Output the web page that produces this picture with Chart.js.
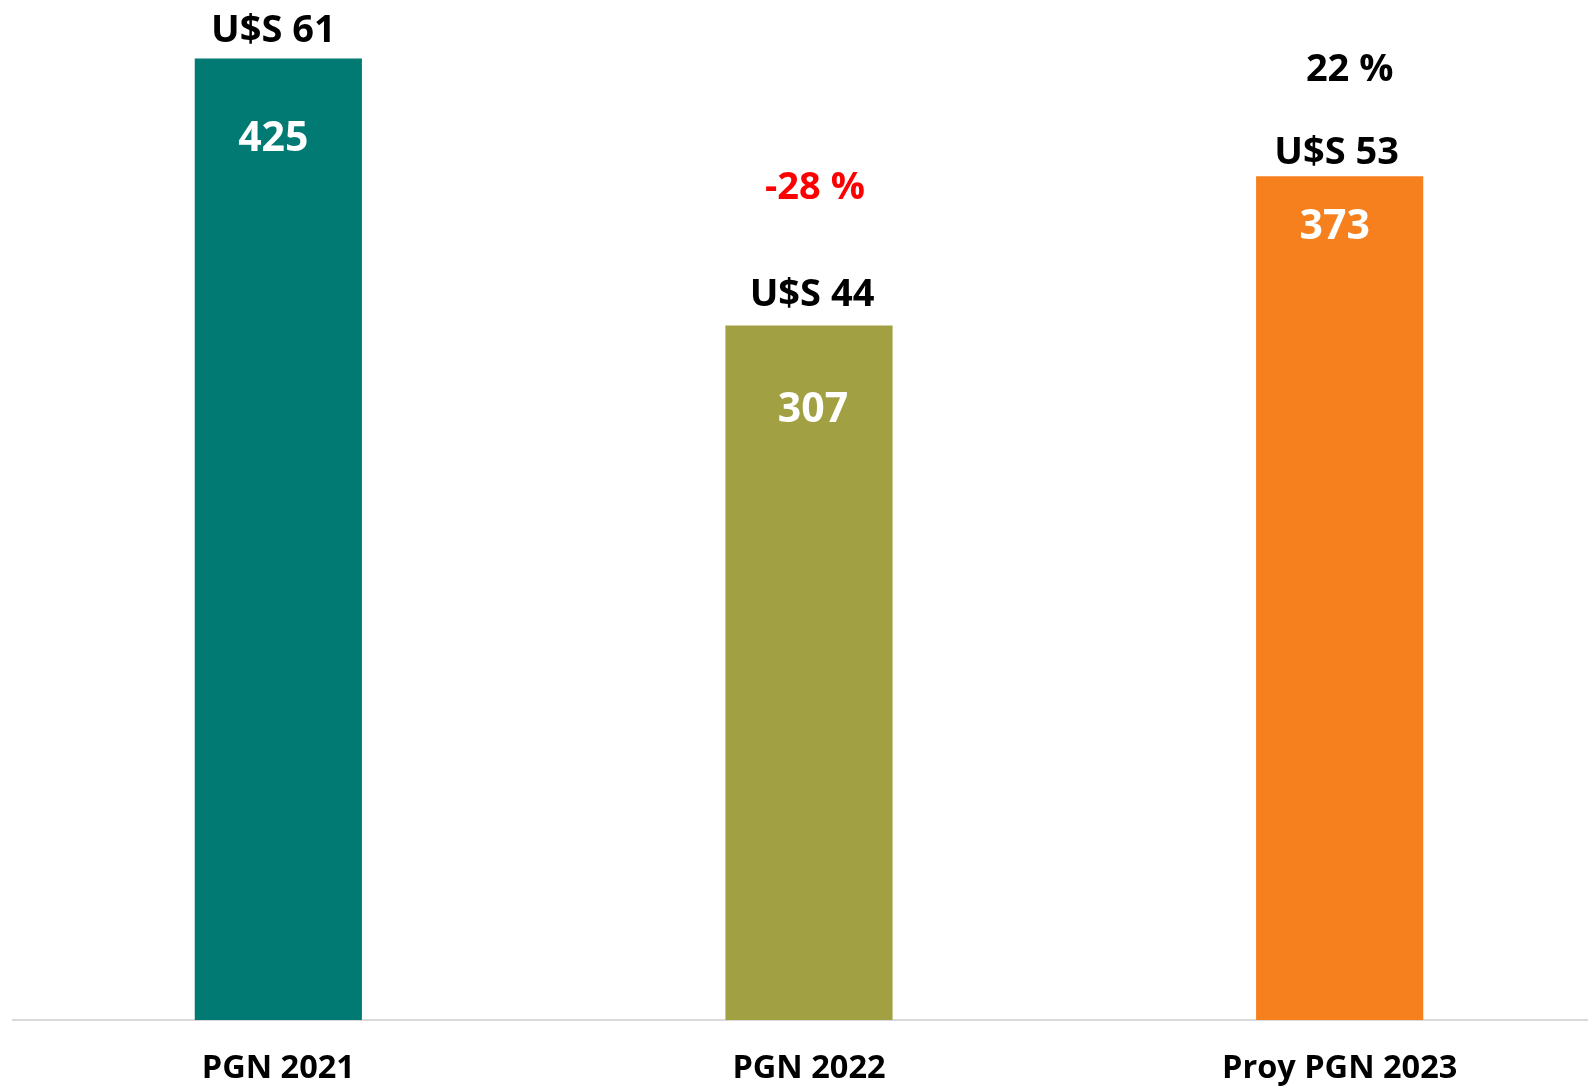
<!DOCTYPE html>
<html>
<head>
<meta charset="utf-8">
<script src="https://cdn.jsdelivr.net/npm/chart.js@4.4.1/dist/chart.umd.min.js"></script>
<style>
  html, body { margin: 0; padding: 0; background: #ffffff; overflow: hidden; width: 1588px; height: 1086px; }
  #wrap { width: 1605px; height: 1117px; position: relative; }
</style>
</head>
<body>
<div id="wrap"><canvas id="c"></canvas></div>
<script>
// ---- data ----
const categories = ['PGN 2021', 'PGN 2022', 'Proy PGN 2023'];
const values = [425, 307, 373];          // white labels inside bars
const usdValues = [61, 44, 53];          // U$S labels above bars
const pctChange = [null, -28, 22];       // % change labels

// ---- styles ----
const barColors = ['#027A74', '#A1A143', '#F7801E'];
const pctColors = [null, '#FF0000', '#000000'];

const FONT = "'Open Sans', 'DejaVu Sans', sans-serif";

// offsets (px) relative to bar top / bar centre, for the cap-centre of each text
const labelLayout = {
  valueDy: [78, 82, 48],
  valueDx: [-5, 4, -5],
  usdDy: [-30, -33, -26],
  usdDx: [-5, 3, -3],
  pctDy: [null, -140, -109],
  pctDx: [null, 6, 10]
};

function capText(ctx, text, x, capCenterY, size, color) {
  ctx.font = 'bold ' + size + 'px ' + FONT;
  ctx.fillStyle = color;
  ctx.textAlign = 'center';
  ctx.textBaseline = 'alphabetic';
  ctx.fillText(text, x, capCenterY + 0.357 * size);
}

const labelPlugin = {
  id: 'barLabels',
  afterDatasetsDraw(chart) {
    const ctx = chart.ctx;
    const meta = chart.getDatasetMeta(0);
    ctx.save();
    meta.data.forEach((bar, i) => {
      const x = bar.x, top = bar.y;
      capText(ctx, String(values[i]), x + labelLayout.valueDx[i], top + labelLayout.valueDy[i], 41, '#FFFFFF');
      capText(ctx, 'U$S ' + usdValues[i], x + labelLayout.usdDx[i], top + labelLayout.usdDy[i], 38, '#000000');
      if (pctChange[i] !== null) {
        capText(ctx, pctChange[i] + ' %', x + labelLayout.pctDx[i], top + labelLayout.pctDy[i], 38, pctColors[i]);
      }
    });
    ctx.restore();
  }
};

new Chart(document.getElementById('c'), {
  type: 'bar',
  data: {
    labels: categories,
    datasets: [{
      data: values,
      backgroundColor: barColors,
      borderWidth: 0,
      barPercentage: 0.315,
      categoryPercentage: 1.0
    }]
  },
  options: {
    responsive: true,
    maintainAspectRatio: false,
    animation: false,
    layout: { padding: { left: 13, right: 0, top: 2, bottom: 0 } },
    plugins: {
      legend: { display: false },
      tooltip: { enabled: false }
    },
    scales: {
      x: {
        offset: true,
        grid: { display: false, drawTicks: false },
        border: { display: true, color: '#D9D9D9', width: 2 },
        ticks: {
          color: '#000000',
          padding: 29,
          font: { family: FONT, size: 32.5, weight: 'bold' }
        }
      },
      y: {
        display: false,
        min: 0,
        max: 450
      }
    }
  },
  plugins: [labelPlugin]
});
</script>
</body>
</html>
